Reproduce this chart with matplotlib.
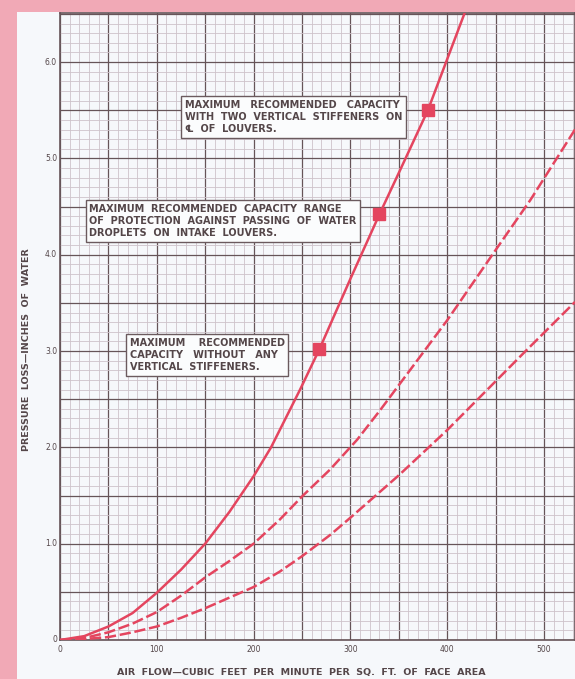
import matplotlib
matplotlib.use("Agg")
import matplotlib.pyplot as plt
from matplotlib.patches import Rectangle
from matplotlib.ticker import MultipleLocator

# ---- data ----
airflow_solid = [0, 25, 50, 75, 100, 125, 150, 175, 200, 218, 248, 268, 300, 330, 350, 380, 418]
loss_solid = [0, 0.04, 0.14, 0.28, 0.49, 0.73, 1.0, 1.33, 1.70, 2.0, 2.60, 3.02, 3.75, 4.42, 4.85, 5.5, 6.51]

airflow_mid = [0, 25, 50, 75, 100, 125, 150, 175, 200, 227, 251, 279, 307, 331, 400, 448, 486, 532]
loss_mid = [0, 0.02, 0.08, 0.17, 0.29, 0.46, 0.65, 0.82, 1.0, 1.25, 1.5, 1.77, 2.08, 2.39, 3.32, 4.02, 4.57, 5.30]

airflow_low = [0, 25, 50, 75, 100, 125, 150, 175, 200, 227, 250, 279, 300, 350, 400, 479, 532]
loss_low = [0, 0.01, 0.03, 0.08, 0.14, 0.23, 0.33, 0.44, 0.55, 0.71, 0.87, 1.09, 1.27, 1.71, 2.18, 2.98, 3.51]

marker_x = [268, 330, 380]
marker_y = [3.02, 4.42, 5.50]

x_ticks = [0, 100, 200, 300, 400, 500]
x_tick_labels = ["0", "100", "200", "300", "400", "500"]
y_ticks = [0, 1, 2, 3, 4, 5, 6]
y_tick_labels = ["0", "1.0", "2.0", "3.0", "4.0", "5.0", "6.0"]

note_top = "MAXIMUM   RECOMMENDED   CAPACITY\nWITH  TWO  VERTICAL  STIFFENERS  ON\n℄  OF  LOUVERS."
note_mid = "MAXIMUM  RECOMMENDED  CAPACITY  RANGE\nOF  PROTECTION  AGAINST  PASSING  OF  WATER\nDROPLETS  ON  INTAKE  LOUVERS."
note_low = "MAXIMUM    RECOMMENDED\nCAPACITY   WITHOUT   ANY\nVERTICAL  STIFFENERS."

x_label = "AIR  FLOW—CUBIC  FEET  PER  MINUTE  PER  SQ.  FT.  OF  FACE  AREA"
y_label = "PRESSURE  LOSS—INCHES  OF  WATER"

# ---- styling ----
W, H = 575, 679
pink = "#f1a9b6"
paper = "#f6f8fb"
red = "#e4455f"
major_c = "#665458"
minor_c = "#cec3ca"
text_c = "#544649"

fig = plt.figure(figsize=(W / 100, H / 100), dpi=100, facecolor=pink)
bg = Rectangle((17 / W, 0), 1 - 17 / W, 1 - 12 / H,
               transform=fig.transFigure, facecolor=paper,
               edgecolor="none", zorder=-10)
fig.add_artist(bg)

ax = fig.add_axes([60 / W, 1 - 640 / H, 1 - 60 / W, (640 - 13) / H])
ax.set_zorder(1)
ax.set_facecolor(paper)
ax.set_xlim(0, 532)
ax.set_ylim(0, 6.51)

ax.xaxis.set_major_locator(MultipleLocator(50))
ax.yaxis.set_major_locator(MultipleLocator(0.5))
ax.xaxis.set_minor_locator(MultipleLocator(10))
ax.yaxis.set_minor_locator(MultipleLocator(0.1))
ax.grid(which="minor", color=minor_c, lw=0.6, zorder=1)
ax.grid(which="major", color=major_c, lw=0.9, zorder=2)
ax.set_axisbelow(True)
ax.tick_params(which="both", length=0)
ax.set_xticklabels([])
ax.set_yticklabels([])

# tick labels placed at data positions
for xv, lab in zip(x_ticks, x_tick_labels):
    ax.text(xv, -0.05, lab, ha="center", va="top", fontsize=5.5,
            color=text_c, clip_on=False)
for yv, lab in zip(y_ticks, y_tick_labels):
    ax.text(-3, yv, lab, ha="right", va="center", fontsize=5.5,
            color=text_c, clip_on=False)

for s in ax.spines.values():
    s.set_color(major_c)
    s.set_linewidth(1.2)

ax.plot(airflow_solid, loss_solid, color=red, lw=1.8, zorder=5,
        solid_capstyle="round")
ax.plot(airflow_mid, loss_mid, color=red, lw=1.8, zorder=5,
        dashes=(4.5, 1.5))
ax.plot(airflow_low, loss_low, color=red, lw=1.8, zorder=5,
        dashes=(4.5, 1.5))
ax.plot(marker_x, marker_y, ls="none", marker="s", ms=8, color=red, zorder=6)

box = dict(boxstyle="square,pad=0.35", facecolor="#fbfcfd", edgecolor="#6b5a5e", lw=1.0)
fs = 7.0
ax.text(129, 5.43, note_top, fontsize=fs, fontweight="bold", color=text_c,
        ha="left", va="center", linespacing=1.3, bbox=box, zorder=7)
ax.text(30, 4.35, note_mid, fontsize=fs, fontweight="bold", color=text_c,
        ha="left", va="center", linespacing=1.3, bbox=box, zorder=7)
ax.text(72, 2.96, note_low, fontsize=fs, fontweight="bold", color=text_c,
        ha="left", va="center", linespacing=1.3, bbox=box, zorder=7)

fig.text(301 / W, 1 - 672 / H, x_label, ha="center", va="center",
         fontsize=6.8, fontweight="bold", color=text_c)
fig.text(27 / W, 1 - 350 / H, y_label, ha="center", va="center",
         fontsize=6.8, fontweight="bold", color=text_c, rotation=90)

fig.savefig("out.png", dpi=100, facecolor=pink)
